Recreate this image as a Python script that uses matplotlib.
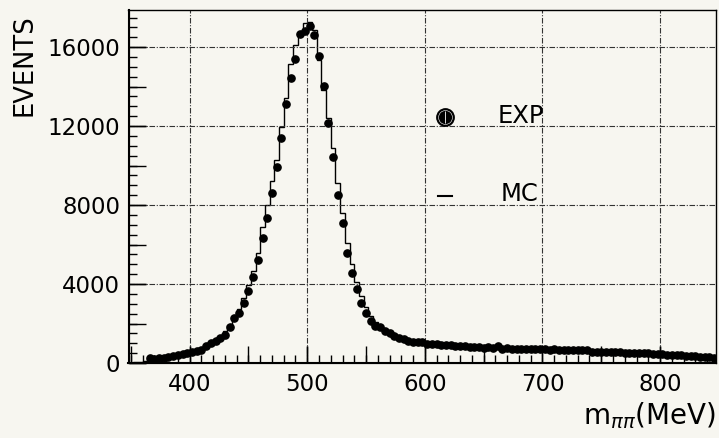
#=======================================================
# Espectro m_pipi: datos EXP (puntos) vs MC (histograma)
#=======================================================
import numpy as np
import matplotlib
matplotlib.use("Agg")
import matplotlib.pyplot as plt
from matplotlib.ticker import MultipleLocator, NullLocator

## Bines de 4 MeV entre 348 y 848 MeV
x_min, x_max, ancho = 348, 848, 4

## Eventos por bin (en miles)
exp_k = [np.nan, np.nan, np.nan, np.nan, 0.24, 0.22, 0.25, 0.27, 0.32, 0.37,
         0.39, 0.46, 0.49, 0.54, 0.59, 0.66, 0.88, 1.00, 1.13, 1.25,
         1.42, 1.84, 2.26, 2.52, 3.05, 3.65, 4.37, 5.22, 6.31, 7.36,
         8.62, 9.91, 11.41, 13.10, 14.42, 15.38, 16.66, 16.81, 17.08, 16.61,
         15.54, 14.03, 12.14, 10.42, 8.49, 7.07, 5.59, 4.54, 3.73, 3.05,
         2.55, 2.13, 1.87, 1.81, 1.64, 1.50, 1.37, 1.28, 1.20, 1.13,
         1.08, 1.05, 1.06, 0.96, 0.95, 0.98, 0.90, 0.93, 0.90, 0.86,
         0.84, 0.86, 0.82, 0.82, 0.80, 0.78, 0.80, 0.78, 0.88, 0.72,
         0.74, 0.72, 0.73, 0.71, 0.72, 0.70, 0.70, 0.69, 0.70, 0.68,
         0.69, 0.67, 0.68, 0.66, 0.67, 0.66, 0.68, 0.66, 0.58, 0.58,
         0.57, 0.56, 0.55, 0.55, 0.54, 0.53, 0.53, 0.52, 0.51, 0.50,
         0.50, 0.48, 0.47, 0.44, 0.42, 0.42, 0.40, 0.38, 0.37, 0.36,
         0.33, 0.32, 0.30, 0.28, 0.25]

mc_k = [0.00, 0.03, 0.06, 0.12, 0.18, 0.22, 0.26, 0.30, 0.34, 0.38,
        0.42, 0.48, 0.53, 0.58, 0.65, 0.75, 0.90, 1.05, 1.20, 1.38,
        1.62, 1.95, 2.35, 2.75, 3.30, 3.95, 4.65, 5.55, 6.90, 8.00,
        9.20, 10.30, 11.93, 13.40, 15.17, 16.10, 16.61, 17.20, 17.28, 16.86,
        15.34, 13.82, 12.39, 10.87, 9.10, 7.60, 6.10, 5.00, 4.10, 3.40,
        2.85, 2.40, 2.10, 1.90, 1.72, 1.58, 1.45, 1.35, 1.26, 1.18,
        1.12, 1.07, 1.03, 1.00, 0.97, 0.95, 0.93, 0.91, 0.89, 0.87,
        0.85, 0.84, 0.83, 0.82, 0.81, 0.80, 0.79, 0.78, 0.78, 0.77,
        0.76, 0.75, 0.74, 0.73, 0.73, 0.72, 0.71, 0.71, 0.70, 0.70,
        0.69, 0.69, 0.68, 0.68, 0.67, 0.67, 0.66, 0.66, 0.60, 0.59,
        0.58, 0.57, 0.56, 0.56, 0.55, 0.54, 0.54, 0.53, 0.52, 0.51,
        0.50, 0.49, 0.48, 0.46, 0.44, 0.43, 0.41, 0.40, 0.38, 0.37,
        0.35, 0.33, 0.31, 0.29, 0.27]

#***************************************************************
bordes = np.arange(x_min, x_max + ancho, ancho)
centros = bordes[:-1] + ancho / 2
exp = np.array(exp_k) * 1000
mc = np.array(mc_k) * 1000

fondo = "#f7f6f0"
plt.rcParams["font.family"] = ["DejaVu Sans"]
plt.rcParams["mathtext.fontset"] = "dejavusans"

fig = plt.figure(figsize=(7.19, 4.38), dpi=100, facecolor=fondo)
ax = fig.add_axes([128.5 / 719, 75 / 438, 588 / 719, 353 / 438], facecolor=fondo)

## Histograma MC y puntos EXP
ax.stairs(mc, bordes, color="black", lw=1.0)
ax.plot(centros, exp, "o", color="black", ms=5.2, mec="black")

ax.set_xlim(x_min, x_max)
ax.set_ylim(0, 17880)

#***************************************************************
## Ejes, ticks y rejilla
ax.xaxis.set_major_locator(MultipleLocator(100))
ax.xaxis.set_minor_locator(MultipleLocator(10))
ax.yaxis.set_major_locator(MultipleLocator(4000))
ax.yaxis.set_minor_locator(MultipleLocator(500))
ax.tick_params(which="both", direction="in", top=False, right=False,
               labelsize=16.5, width=1.0, color="black")
ax.tick_params(which="major", length=12)
ax.tick_params(which="minor", length=6)
ax.tick_params(axis="x", pad=7)
ax.tick_params(axis="y", pad=6)
ax.grid(which="major", color="#333333", lw=0.8, linestyle=(0, (5, 1.5, 1, 1.5)))

## ticks medianos (cada 50 MeV / 2000 eventos)
sx = ax.secondary_xaxis("bottom")
sx.xaxis.set_major_locator(MultipleLocator(50))
sx.xaxis.set_minor_locator(NullLocator())
sx.tick_params(direction="in", length=12, labelbottom=False, width=1.0)
sy = ax.secondary_yaxis("left")
sy.yaxis.set_major_locator(MultipleLocator(2000))
sy.yaxis.set_minor_locator(NullLocator())
sy.tick_params(direction="in", length=12, labelleft=False, width=1.0)

for s in ax.spines.values():
    s.set_linewidth(1.0)
ax.spines["left"].set_linewidth(1.5)
ax.spines["bottom"].set_linewidth(1.5)

#***************************************************************
## Leyenda dibujada a mano
ax.plot([0.538], [0.697], "o", ms=12.5, color="black", transform=ax.transAxes, clip_on=False)
ax.plot([0.538], [0.697], "o", ms=10, mfc="none", mec="white", mew=0.4, transform=ax.transAxes)
ax.plot([0.538], [0.697], "|", ms=9, mec="white", mew=0.6, transform=ax.transAxes)
ax.text(0.627, 0.700, "EXP", transform=ax.transAxes, fontsize=17.5, va="center", ha="left")
ax.plot([0.527, 0.551], [0.473, 0.473], color="black", lw=1.5, transform=ax.transAxes)
ax.text(0.633, 0.479, "MC", transform=ax.transAxes, fontsize=17.5, va="center", ha="left")

## Titulos de ejes
fig.text(24 / 719, 1 - 14 / 438, "EVENTS", rotation=90, ha="center", va="top", fontsize=18.5)
fig.text(716 / 719, 7 / 438, r"m$_{\pi\pi}$(MeV)", ha="right", va="bottom", fontsize=20)

fig.savefig("out.png", dpi=100, facecolor=fondo)
